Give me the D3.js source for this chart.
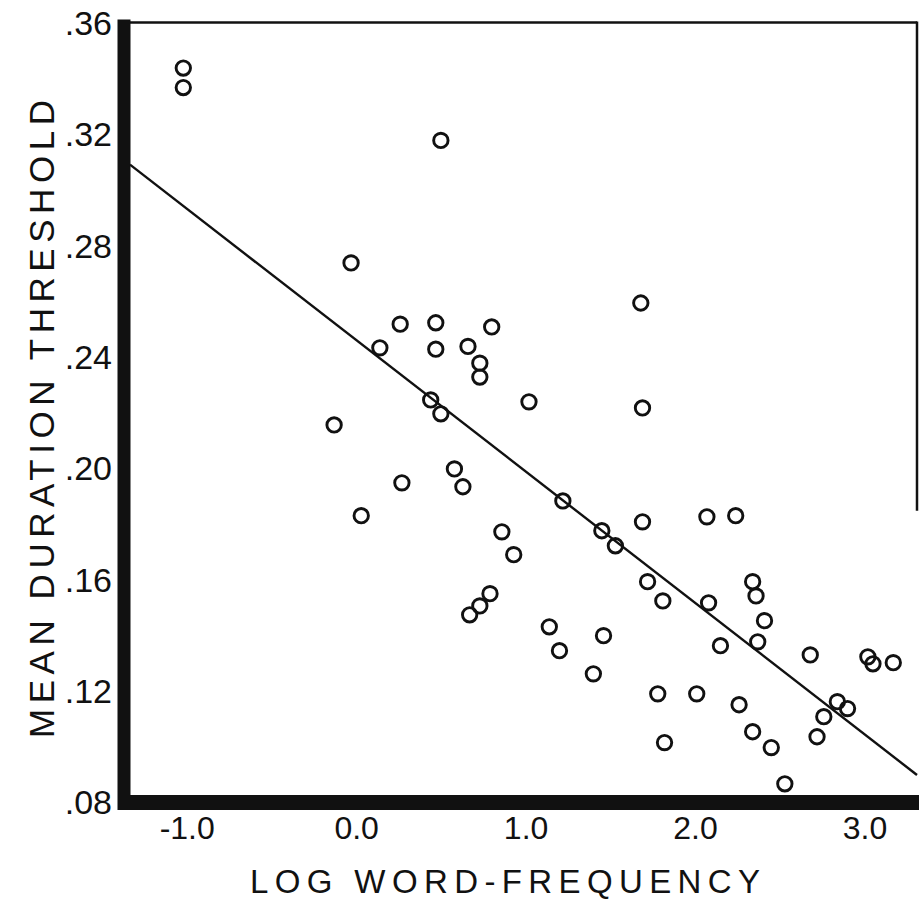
<!DOCTYPE html>
<html>
<head>
<meta charset="utf-8">
<script src="https://cdn.jsdelivr.net/npm/d3@7"></script>
<style>
  html, body { margin: 0; padding: 0; background: #fff; }
  svg text { font-family: "Liberation Sans", Arial, sans-serif; fill: #111; }
</style>
</head>
<body>
<div id="chart"></div>
<script>
const width = 919;
const height = 901;

// data
const logFreq = [
  -1.02, -1.02, 0.50, -0.03, 0.26, 0.47, 0.80, 0.14, 0.47, 0.66,
  0.73, 0.73, 0.44, 0.50, 1.02, -0.13, 0.58, 0.63, 0.27, 0.03,
  0.86, 0.93, 0.79, 0.73, 0.67, 1.14, 1.20, 1.22, 1.68, 1.69,
  1.45, 1.53, 1.69, 2.07, 2.24, 1.72, 1.81, 2.08, 2.34, 2.36,
  2.41, 2.37, 1.46, 1.40, 2.15, 1.78, 2.01, 2.26, 2.34, 1.82,
  2.68, 3.02, 3.05, 3.17, 2.84, 2.90, 2.76, 2.72, 2.45, 2.53
];
const threshold = [
  .344, .337, .318, .274, .252, .2525, .251, .2435, .243, .244,
  .238, .233, .2248, .2198, .2241, .2158, .200, .1936, .195, .1832,
  .1774, .1692, .1552, .1508, .1476, .1433, .1347, .1885, .2596, .2219,
  .1778, .1724, .181, .1828, .1832, .1595, .1526, .1519, .1595, .1544,
  .1455, .1379, .1401, .1264, .1365, .1192, .1192, .1153, .1056, .1017,
  .1332, .1325, .130, .1304, .1164, .1139, .111, .1038, .0999, .0869
];

// regression line: intercept, slope
const fitLine = [0.2463, -0.0472];

const xTicks = [-1, 0, 1, 2, 3];
const xTickLabels = ["-1.0", "0.0", "1.0", "2.0", "3.0"];
const yTicks = [.08, .12, .16, .20, .24, .28, .32, .36];
const yTickLabels = [".08", ".12", ".16", ".20", ".24", ".28", ".32", ".36"];

const xDomain = [-1.37, 3.31];
const yDomain = [.08, .36];

const x = d3.scaleLinear().domain(xDomain).range([124, 917]);
const y = d3.scaleLinear().domain(yDomain).range([803, 23.5]);

const svg = d3.select("#chart")
  .append("svg")
  .attr("width", width)
  .attr("height", height);

const ink = "#111";

// frame: thin top and right, thick left and bottom
svg.append("line")
  .attr("x1", x(xDomain[0])).attr("x2", x(xDomain[1]))
  .attr("y1", y(.36) - 1).attr("y2", y(.36) - 1)
  .attr("stroke", ink).attr("stroke-width", 2.5);

svg.append("line")
  .attr("x1", x(xDomain[1])).attr("x2", x(xDomain[1]))
  .attr("y1", y(.36) - 2).attr("y2", y(.185))
  .attr("stroke", ink).attr("stroke-width", 2.5);

svg.append("line")
  .attr("x1", x(xDomain[0])).attr("x2", x(xDomain[0]))
  .attr("y1", y(.36) - 4).attr("y2", y(.08) + 7)
  .attr("stroke", ink).attr("stroke-width", 13);

svg.append("line")
  .attr("x1", x(xDomain[0]) - 6).attr("x2", width)
  .attr("y1", y(.08) - 0.5).attr("y2", y(.08) - 0.5)
  .attr("stroke", ink).attr("stroke-width", 15);

// axes (labels only)
const yAxis = svg.append("g")
  .attr("transform", `translate(${x(xDomain[0])},0)`)
  .call(d3.axisLeft(y)
    .tickValues(yTicks)
    .tickSize(0)
    .tickPadding(12)
    .tickFormat((d, i) => yTickLabels[i]));

const xAxis = svg.append("g")
  .attr("transform", `translate(0,${y(.08)})`)
  .call(d3.axisBottom(x)
    .tickValues(xTicks)
    .tickSize(0)
    .tickPadding(13)
    .tickFormat((d, i) => xTickLabels[i]));

svg.selectAll(".domain").remove();
yAxis.selectAll("text")
  .attr("font-size", 34)
  .attr("fill", ink)
  .style("font-family", "'Liberation Sans', Arial, sans-serif");
xAxis.selectAll("text")
  .attr("font-size", 32)
  .attr("fill", ink)
  .style("font-family", "'Liberation Sans', Arial, sans-serif");

// regression line
svg.append("line")
  .attr("x1", x(xDomain[0]) + 6)
  .attr("y1", y(fitLine[0] + fitLine[1] * x.invert(x(xDomain[0]) + 6)))
  .attr("x2", x(xDomain[1]))
  .attr("y2", y(fitLine[0] + fitLine[1] * xDomain[1]))
  .attr("stroke", ink)
  .attr("stroke-width", 2.4);

// points
svg.append("g")
  .selectAll("circle")
  .data(logFreq)
  .enter()
  .append("circle")
  .attr("cx", d => x(d))
  .attr("cy", (d, i) => y(threshold[i]))
  .attr("r", 7.2)
  .attr("fill", "none")
  .attr("stroke", ink)
  .attr("stroke-width", 2.9);

// axis titles
svg.append("text")
  .attr("transform", "translate(41,419) rotate(-90)")
  .attr("text-anchor", "middle")
  .attr("dominant-baseline", "central")
  .attr("font-size", 35)
  .attr("textLength", 638)
  .attr("lengthAdjust", "spacing")
  .text("MEAN DURATION THRESHOLD");

svg.append("text")
  .attr("x", 505)
  .attr("y", 893)
  .attr("text-anchor", "middle")
  .attr("font-size", 33)
  .attr("textLength", 510)
  .attr("lengthAdjust", "spacing")
  .text("LOG WORD-FREQUENCY");
</script>
</body>
</html>
